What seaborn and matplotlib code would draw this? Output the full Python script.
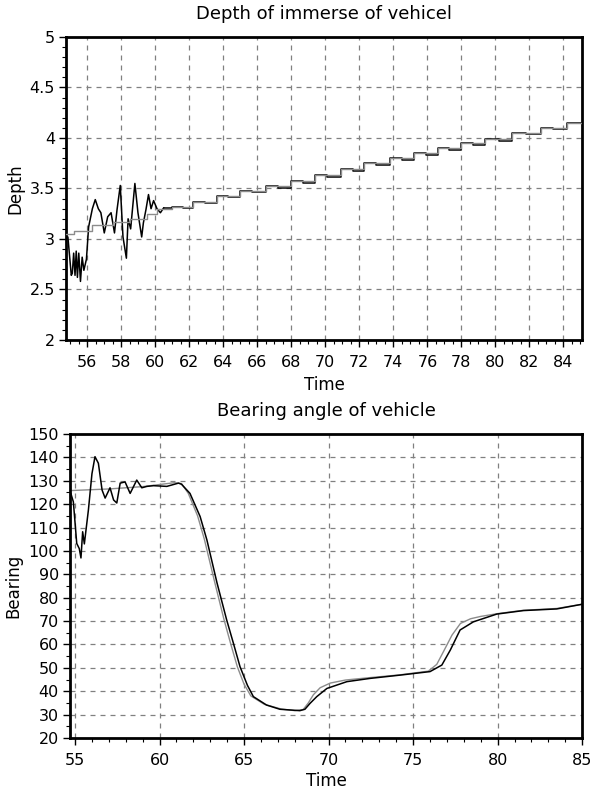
import numpy as np
import pandas as pd
import seaborn as sns
import matplotlib.pyplot as plt
from matplotlib.ticker import MultipleLocator, FuncFormatter

# Depth: reference (grey, stepped)
depth_ref_t = [54.75, 55.2, 56.3, 57.5, 58.5, 59.5, 60.1, 61.0, 62.2, 63.6, 65.0, 66.5,
               68.0, 69.4, 70.9, 72.3, 73.8, 75.2, 76.6, 78.0, 79.4, 81.0, 82.7, 84.2, 85.1]
depth_ref_d = [3.05, 3.08, 3.14, 3.17, 3.20, 3.25, 3.30, 3.32, 3.37, 3.43, 3.48, 3.52,
               3.57, 3.63, 3.69, 3.75, 3.80, 3.85, 3.90, 3.95, 3.99, 4.05, 4.10, 4.15, 4.15]

# Depth: measured (black), noisy start
depth_t = [54.75, 54.86, 55.06, 55.12, 55.2, 55.28, 55.35, 55.42, 55.5, 55.6, 55.7, 55.8,
           55.95, 56.08, 56.3, 56.47, 56.65, 56.8, 57.0, 57.2, 57.4, 57.6, 57.75, 57.94,
           58.1, 58.3, 58.4, 58.55, 58.8, 58.98, 59.2, 59.3, 59.45, 59.6, 59.75, 59.9,
           60.1, 60.3, 60.5]
depth_d = [3.02, 3.02, 2.64, 2.66, 2.86, 2.64, 2.88, 2.62, 2.86, 2.58, 2.82, 2.69,
           2.80, 3.12, 3.30, 3.39, 3.30, 3.26, 3.06, 3.22, 3.26, 3.06, 3.29, 3.53,
           3.02, 2.81, 3.20, 3.10, 3.55, 3.26, 3.02, 3.16, 3.29, 3.44, 3.30, 3.38,
           3.30, 3.26, 3.31]

# Depth: measured (black), after settling
depth_t2 = [60.5, 61.0, 61.6, 62.2, 62.9, 63.6, 64.3, 65.0, 65.7, 66.5, 67.2, 68.0, 68.7,
            69.4, 70.1, 70.9, 71.6, 72.3, 73.0, 73.8, 74.5, 75.2, 75.9, 76.6, 77.3, 78.0,
            78.7, 79.4, 80.2, 81.0, 81.8, 82.7, 83.4, 84.2, 85.1]
depth_d2 = [3.31, 3.32, 3.31, 3.37, 3.355, 3.43, 3.415, 3.48, 3.465, 3.52, 3.505, 3.57, 3.555,
            3.63, 3.615, 3.69, 3.675, 3.75, 3.735, 3.80, 3.785, 3.85, 3.835, 3.90, 3.885, 3.95,
            3.935, 3.99, 3.975, 4.05, 4.035, 4.10, 4.085, 4.15, 4.15]

# Bearing: reference (grey)
bear_ref_t = [54.7, 57.0, 59.0, 60.9, 61.3, 61.7, 62.25, 62.65, 63.25, 63.8, 64.2, 64.6,
              65.0, 65.4, 66.2, 67.2, 68.0, 68.5, 68.8, 69.1, 69.5, 70.1, 71.0,
              72.4, 74.2, 75.9, 76.4, 76.8, 77.3, 77.8, 78.4, 79.0, 80.0, 81.5, 83.5, 85.0]
bear_ref_b = [125.8, 126.5, 127.5, 129.2, 128.8, 124.6, 115.0, 105.0, 87.0, 71.0, 60.5, 50.5,
              43.0, 38.0, 34.4, 32.4, 31.7, 32.2, 35.0, 38.5, 41.5, 43.5, 44.8,
              45.8, 47.0, 48.6, 51.5, 57.0, 64.0, 69.0, 71.0, 72.0, 73.2, 74.6, 75.4, 77.2]

# Bearing: measured (black)
bear_t = [54.75, 54.9, 55.1, 55.25, 55.35, 55.45, 55.55, 55.79, 56.0, 56.18, 56.38, 56.6,
          56.78, 57.07, 57.28, 57.47, 57.67, 57.96, 58.26, 58.65, 58.95, 59.25, 59.64,
          60.43, 61.12, 61.3, 61.8, 62.4, 62.8, 63.4, 63.97, 64.37, 64.76, 65.2, 65.55,
          66.33, 67.12, 68.3, 68.6, 68.9, 69.3, 69.9, 71.08, 72.46, 74.23, 76.0, 76.7,
          77.2, 77.78, 78.57, 79.95, 81.53, 83.5, 85.0]
bear_b = [124.6, 121.0, 103.2, 101.0, 97.0, 108.2, 103.0, 117.5, 133.0, 140.3, 137.5, 126.0,
          122.6, 127.0, 121.8, 120.5, 129.0, 129.5, 124.6, 130.3, 127.0, 127.6, 127.9,
          127.6, 129.0, 128.5, 124.6, 114.7, 104.7, 86.3, 70.5, 60.5, 50.5, 42.5, 37.7,
          34.1, 32.3, 31.7, 32.3, 34.8, 37.7, 41.2, 44.1, 45.5, 46.9, 48.4, 51.2,
          57.6, 66.2, 69.7, 73.0, 74.5, 75.2, 77.2]

sns.set_style("white")
plt.rcParams['font.family'] = ['DejaVu Sans']
plt.rcParams.update({"text.color": "black", "axes.labelcolor": "black",
                     "xtick.color": "black", "ytick.color": "black"})

fig = plt.figure(figsize=(5.91, 7.94), dpi=100)
ax1 = fig.add_axes([0.1117, 0.5718, 0.8733, 0.3816])
ax2 = fig.add_axes([0.1184, 0.0705, 0.8666, 0.3829])

grey = "#8c8c8c"

# top chart
sns.lineplot(x=depth_t, y=depth_d, ax=ax1, color="black", linewidth=1.1, sort=False, zorder=2)
sns.lineplot(x=depth_t2, y=depth_d2, ax=ax1, color="black", linewidth=1.1, sort=False,
             drawstyle="steps-post", zorder=2)
sns.lineplot(x=depth_ref_t, y=depth_ref_d, ax=ax1, color=grey, linewidth=1.0, sort=False,
             drawstyle="steps-post", zorder=3)
ax1.set_xlim(54.75, 85.1)
ax1.set_ylim(2, 5)
ax1.xaxis.set_major_locator(MultipleLocator(2))
ax1.xaxis.set_minor_locator(MultipleLocator(0.5))
ax1.yaxis.set_major_locator(MultipleLocator(0.5))
ax1.yaxis.set_minor_locator(MultipleLocator(0.1))
ax1.yaxis.set_major_formatter(FuncFormatter(lambda v, p: f"{v:g}"))
ax1.set_title("Depth of immerse of vehicel", fontsize=13, pad=13)
ax1.set_xlabel("Time", fontsize=12, labelpad=4)
ax1.set_ylabel("Depth", fontsize=12, labelpad=4)

# bottom chart
sns.lineplot(x=bear_ref_t, y=bear_ref_b, ax=ax2, color=grey, linewidth=1.0, sort=False, zorder=2)
sns.lineplot(x=bear_t, y=bear_b, ax=ax2, color="black", linewidth=1.1, sort=False, zorder=3)
ax2.set_xlim(54.7, 85)
ax2.set_ylim(20, 150)
ax2.xaxis.set_major_locator(MultipleLocator(5))
ax2.xaxis.set_minor_locator(MultipleLocator(1))
ax2.yaxis.set_major_locator(MultipleLocator(10))
ax2.yaxis.set_minor_locator(MultipleLocator(5))
ax2.set_title("Bearing angle of vehicle", fontsize=13, pad=13)
ax2.set_xlabel("Time", fontsize=12, labelpad=3)
ax2.set_ylabel("Bearing", fontsize=12, labelpad=4)

for ax in (ax1, ax2):
    ax.grid(True, which="major", linestyle=(0, (4, 4)), color="#808080", linewidth=0.9)
    for side in ax.spines:
        ax.spines[side].set_color("black")
        ax.spines[side].set_linewidth(2)
    ax.tick_params(which="major", direction="out", length=5, width=1, labelsize=11.5,
                   left=True, bottom=True, pad=6)
    ax.tick_params(which="minor", direction="out", length=3, width=0.8,
                   left=True, bottom=True)
    ax.tick_params(axis="y", which="major", pad=3)
    ax.set_axisbelow(True)

fig.savefig("out.png", dpi=100)
